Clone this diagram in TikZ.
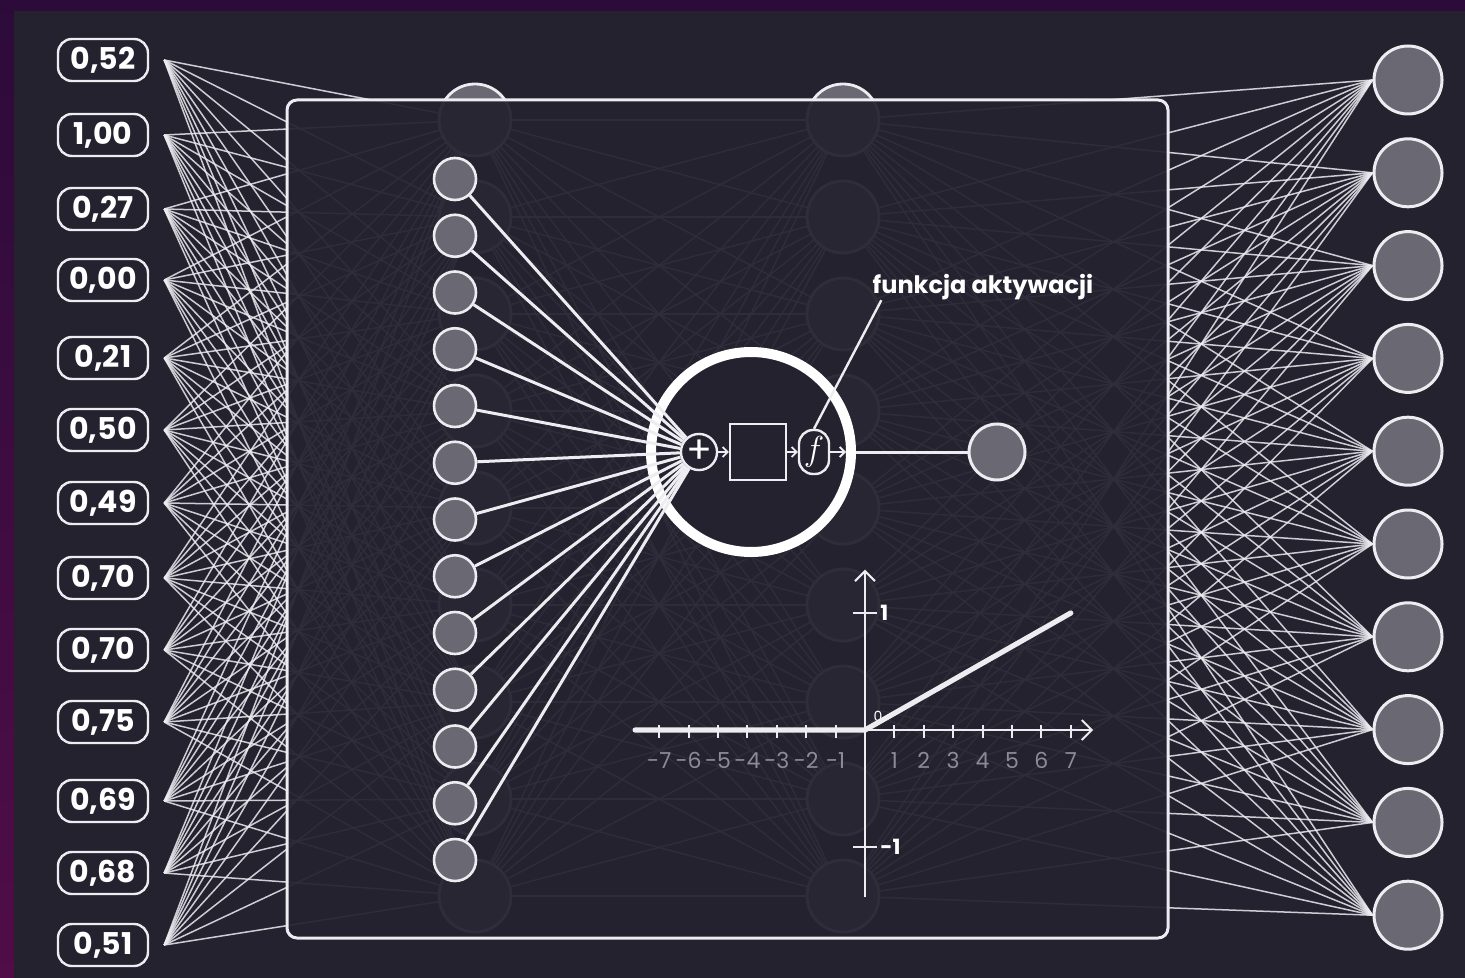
\documentclass[tikz,border=0pt]{standalone}
\usepackage{fontspec}
\setmainfont{Poppins}
\usepackage{tikz}
\usetikzlibrary{arrows.meta,positioning,calc}
\definecolor{bgdark}{RGB}{36,34,47}
\definecolor{edgepurple}{RGB}{44,11,58}
\definecolor{edgemagenta}{RGB}{80,13,72}
\definecolor{neurongray}{RGB}{106,104,114}
\definecolor{linewhite}{RGB}{236,236,241}
\definecolor{ticklabel}{RGB}{140,139,150}

\begin{document}
\begin{tikzpicture}[x=0.5pt, y=-0.5pt,
    valuebox/.style={draw=linewhite, line width=1.2pt, rounded corners=7pt, minimum width=45pt,
        minimum height=21pt, inner sep=0pt, text=white, font=\bfseries\fontsize{15}{15}\selectfont},
    hidnode/.style={circle, draw=linewhite, line width=1.4pt, fill=neurongray, minimum size=36pt, inner sep=0pt},
    outnode/.style={circle, draw=linewhite, line width=1.5pt, fill=neurongray, minimum size=34pt, inner sep=0pt},
    smallnode/.style={circle, draw=linewhite, line width=1.3pt, fill=neurongray, minimum size=21pt, inner sep=0pt},
    link/.style={linewhite, line width=0.75pt, opacity=0.85},
    wire/.style={linewhite, line width=1.5pt},
    minarrow/.style={linewhite, line width=0.9pt, -{Straight Barb[length=2.5pt, width=5pt]}},
    axis/.style={linewhite, line width=1pt},
    ticktext/.style={text=ticklabel, font=\fontsize{11}{11}\selectfont, inner sep=0pt}]

    % background and purple edge
    \fill[bgdark] (0,0) rectangle (1465,978);
    \fill[edgepurple] (0,0) rectangle (1465,11);
    \shade[top color=edgepurple, bottom color=edgemagenta] (0,0) rectangle (14,978);
    \useasboundingbox (0,0) rectangle (1465,978);

    % input values
    \foreach \yy/\val [count=\n] in {60/{0,52}, 135/{1,00}, 209/{0,27}, 280/{0,00}, 358/{0,21}, 430/{0,50},
        503/{0,49}, 578/{0,70}, 650/{0,70}, 722/{0,75}, 801/{0,69}, 873/{0,68}, 945/{0,51}} {
        \node[valuebox] (in\n) at (103,\yy) {\val};
        \coordinate (src\n) at ([xshift=7.5pt]in\n.east);
    }

    % hidden layers (behind the panel)
    \foreach \k in {1,...,9} {
        \node[hidnode] (ha\k) at (475,{120+97*(\k-1)}) {};
        \node[hidnode] (hb\k) at (843,{120+97*(\k-1)}) {};
    }

    % output layer
    \foreach \k in {1,...,10}
        \node[outnode] (out\k) at (1408,{80+92.8*(\k-1)}) {};

    % fully connected links
    \foreach \n in {1,...,13}
        \foreach \k in {1,...,9}
            \draw[link] (src\n) -- (ha\k);
    \foreach \j in {1,...,9}
        \foreach \k in {1,...,9}
            \draw[link] (ha\j) -- (hb\k);
    \foreach \j in {1,...,9}
        \foreach \k in {1,...,10}
            \draw[link] (hb\j) -- (out\k.west);

    % zoom panel
    \draw[linewhite, line width=1.5pt, fill=bgdark, fill opacity=0.94, rounded corners=5pt]
        (287,100) rectangle (1168,938);

    % single neuron
    \node[circle, draw=white, line width=5pt, minimum size=100pt, fill=bgdark] (ring) at (751,452) {};
    \node[circle, draw=linewhite, line width=1.2pt, fill=bgdark, minimum size=17pt, inner sep=0pt,
        text=white, font=\fontsize{19}{19}\selectfont] (plus) at (699,452) {\raisebox{0.8pt}{+}};
    \node[draw=linewhite, line width=1.2pt, minimum size=28pt, inner sep=0pt] (sumbox) at (758,452) {};
    \node[draw=linewhite, line width=1.2pt, rounded corners=7pt, minimum width=15pt, minimum height=22pt,
        inner sep=0pt, text=white, font=\fontsize{17}{17}\selectfont] (fpill) at (814,452) {$f$};
    \coordinate (fout) at (846,452);
    \node[outnode, minimum size=28pt] (result) at (997,452) {};

    \foreach \k in {1,...,13} {
        \node[smallnode] (s\k) at (455,{179+56.75*(\k-1)}) {};
        \draw[wire] (s\k) -- (plus);
    }
    \draw[minarrow] (plus) -- (sumbox);
    \draw[minarrow] (sumbox) -- (fpill);
    \draw[minarrow] (fpill) -- (fout);
    \draw[wire] (ring) -- (result);

    % label of the activation function
    \node[text=white, inner sep=0pt, font=\bfseries\fontsize{12}{12}\selectfont] (act) at (983,287) {funkcja aktywacji};
    \draw[linewhite, line width=1.2pt] ([xshift=4.5pt]act.south west) -- (fpill.north);

    % ReLU plot
    \begin{scope}[shift={(865,730)}, x=14.7pt, y=58.5pt]
        \draw[axis, -{Straight Barb[length=5pt, width=10pt]}] (-7.82,0) -- (7.76,0);
        \draw[axis, -{Straight Barb[length=5pt, width=10pt]}] (0,-1.43) -- (0,1.37);
        \foreach \t in {-7,...,-1,1,2,...,7} {
            \draw[axis] (\t,0.04) -- (\t,-0.07);
            \node[ticktext] (tick\t) at (\t,-0.26) {\t};
        }
        \draw[axis] (-0.41,1) -- (0.41,1);
        \draw[axis] (-0.41,-1) -- (0.41,-1);
        \node[right, inner sep=1.5pt, text=white, font=\bfseries\fontsize{10.5}{10.5}\selectfont] (yone) at (0.41,1) {1};
        \node[right, inner sep=1.5pt, text=white, font=\bfseries\fontsize{10.5}{10.5}\selectfont] (ymone) at (0.41,-1) {-1};
        \node[text=white, inner sep=0pt, font=\fontsize{7}{7}\selectfont] (zero) at (0.44,0.12) {0};
        \draw[linewhite, line width=2.6pt, line cap=round] (-7.82,0) -- (0,0) -- (7,1);
    \end{scope}
\end{tikzpicture}
\end{document}
